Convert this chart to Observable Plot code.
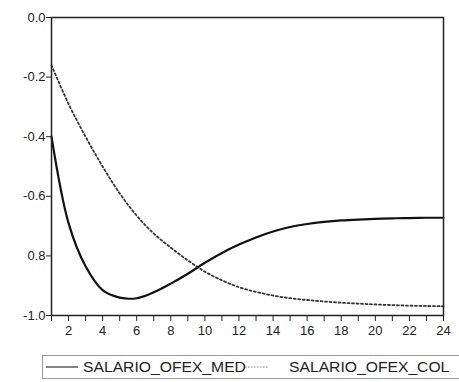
<!DOCTYPE html>
<html>
<head>
<meta charset="utf-8">
<script src="https://cdn.jsdelivr.net/npm/d3@7"></script>
<script src="https://cdn.jsdelivr.net/npm/@observablehq/plot@0.6"></script>
<style>
  body { margin: 0; background: #fff; font-family: "Liberation Sans", Arial, sans-serif; }
  #wrap { position: relative; width: 459px; height: 382px; overflow: hidden; }
  #legend { position: absolute; left: 42px; top: 355px; width: 440px; height: 24px;
    border: 1px solid #999; box-sizing: border-box; font-size: 14px; color: #222;
    white-space: nowrap; display: flex; align-items: center; }
  #legend svg { display: block; }
</style>
</head>
<body>
<div id="wrap"></div>
<script>
const periods = d3.range(1, 25);
const seriesNames = ["SALARIO_OFEX_MED", "SALARIO_OFEX_COL"];
const med = [-0.40, -0.69, -0.835, -0.915, -0.94, -0.942, -0.922, -0.893, -0.86, -0.823, -0.79, -0.762,
  -0.738, -0.718, -0.703, -0.693, -0.686, -0.681, -0.678, -0.676, -0.674, -0.673, -0.672, -0.672];
const col = [-0.16, -0.29, -0.40, -0.50, -0.59, -0.665, -0.725, -0.772, -0.815, -0.853, -0.882, -0.905,
  -0.921, -0.933, -0.942, -0.948, -0.953, -0.957, -0.96, -0.963, -0.965, -0.967, -0.968, -0.969];
const yTicks = [0, -0.2, -0.4, -0.6, -0.8, -1.0];
const yTickLabels = ["0.0", "-0.2", "-0.4", "-0.6", "0.8", "-1.0"];
const xTickLabels = ["2","4","6","8","10","12","14","16","18","20","22","24"];

const medData = periods.map((p, i) => ({p, v: med[i]}));
const colData = periods.map((p, i) => ({p, v: col[i]}));
const evenTicks = xTickLabels.map(Number);

const chart = Plot.plot({
  width: 459,
  height: 345,
  marginLeft: 51,
  marginRight: 16,
  marginTop: 17,
  marginBottom: 30,
  style: {fontFamily: "Liberation Sans, Arial, sans-serif", fontSize: "13px", color: "#222", background: "#fff"},
  x: {domain: [1, 24]},
  y: {domain: [-1, 0]},
  marks: [
    Plot.axisY({ticks: yTicks, tickSize: 5, tickPadding: 1,
      tickFormat: d => yTickLabels[yTicks.findIndex(t => Math.abs(t - d) < 1e-9)], label: null, fontSize: 13}),
    Plot.axisX({ticks: periods, tickSize: 6, tickFormat: () => "", label: null}),
    Plot.axisX({ticks: evenTicks, tickSize: 0, tickPadding: 10,
      tickFormat: d => xTickLabels[evenTicks.indexOf(d)], label: null, fontSize: 13}),
    Plot.line(colData, {x: "p", y: "v", stroke: "#333", strokeWidth: 1.8, strokeDasharray: "2,2.5", curve: "catmull-rom"}),
    Plot.line(medData, {x: "p", y: "v", stroke: "#111", strokeWidth: 2.2, curve: "catmull-rom"}),
    Plot.frame({stroke: "#222", strokeWidth: 1.5})
  ]
});
const wrap = document.getElementById("wrap");
wrap.appendChild(chart);

const legend = document.createElement("div");
legend.id = "legend";
legend.innerHTML =
  `<svg width="36" height="10"><line x1="3" x2="35" y1="5" y2="5" stroke="#333" stroke-width="1.2"/></svg>` +
  `<span style="margin-left:4px;display:inline-block;transform:scaleX(1.12);transform-origin:left;">${seriesNames[0]}</span>` +
  `<svg width="30" height="10" style="margin-left:16px"><line x1="0" x2="24" y1="5" y2="5" stroke="#888" stroke-width="1.2" stroke-dasharray="1.5,1.5"/></svg>` +
  `<span style="margin-left:14px;display:inline-block;transform:scaleX(1.12);transform-origin:left;">${seriesNames[1]}</span>`;
wrap.appendChild(legend);
</script>
</body>
</html>
